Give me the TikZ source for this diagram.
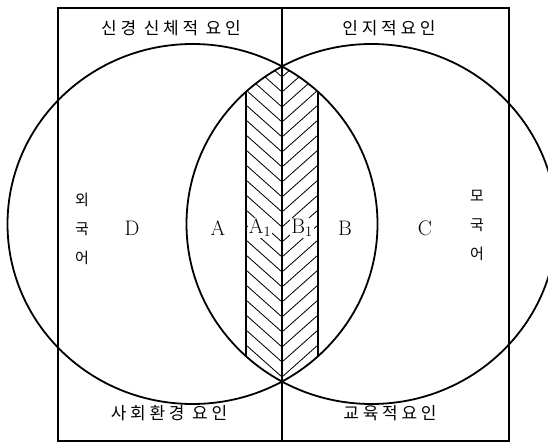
\documentclass[tikz,border=0pt]{standalone}
\usepackage{fontspec}
\newfontfamily\kr[LetterSpace=22]{Noto Sans CJK KR}
\newfontfamily\krv{Noto Sans CJK KR}
\usetikzlibrary{positioning}
\tikzset{
  every picture/.style={line width=1.2pt},
  ring/.style={line width=1.8pt},
  hatch/.style={line width=0.8pt},
  factor/.style={font=\kr\fontsize{17}{20}\selectfont, inner sep=1pt},
  region/.style={font=\fontsize{21}{24}\selectfont, inner sep=1pt},
  lang/.style={font=\krv\fontsize{15}{29}\selectfont, align=center, inner sep=1pt},
}

\begin{document}
\begin{tikzpicture}[x=1pt, y=-1pt]
  \useasboundingbox (0,0) rectangle (548,443);
  \clip (0,0) rectangle (548,443);
  % frame and dividing line
  \draw (58,8) rectangle (509,441);
  \draw (282,8) -- (282,441);
  % hatched band inside the lens
  \begin{scope}
    \clip (192.5,224) ellipse (185 and 180);
    \clip (371.5,224) ellipse (185 and 180);
    \foreach \y in {30,45,...,400} \draw[hatch] (246,\y) -- (282,\y+32) -- (318,\y);
    \draw (246,40) -- (246,410);
    \draw (318,40) -- (318,410);
  \end{scope}
  % the two circles
  \draw[ring] (192.5,224) ellipse (185 and 180);
  \draw[ring] (371.5,224) ellipse (185 and 180);
  % factor labels
  \node[factor] (neuro) at (171,28) {신경~신체적~요인};
  \node[factor] (cogn) at (389,28) {인지적요인};
  \node[factor] (social) at (169,413) {사회환경~요인};
  \node[factor] (edu) at (390,413) {교육적요인};
  % regions
  \node[region] (D) at (132,228) {D};
  \node[region] (A) at (218,228) {A};
  \node[region, fill=white] (A1) at (260,228) {A$_1$};
  \node[region, fill=white] (B1) at (302,228) {B$_1$};
  \node[region] (B) at (345,228) {B};
  \node[region] (C) at (425,228) {C};
  % languages
  \node[lang] (foreign) at (82,229) {외\\국\\어};
  \node[lang] (mother) at (477,225) {모\\국\\어};
\end{tikzpicture}
\end{document}
